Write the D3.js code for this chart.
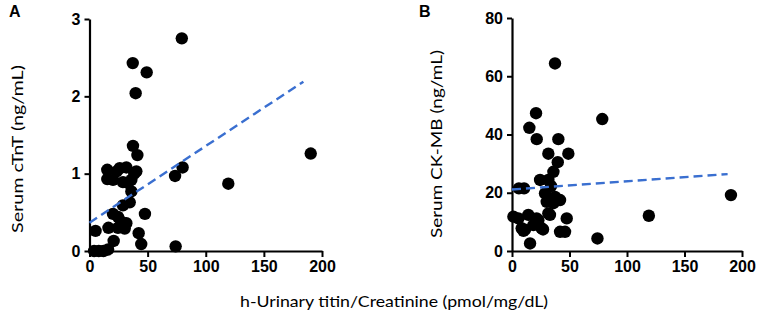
<!DOCTYPE html>
<html><head><meta charset="utf-8">
<script src="https://cdn.jsdelivr.net/npm/d3@7"></script>
<style>body{margin:0;background:#fff}svg{display:block}</style>
</head><body>
<svg id="c" width="759" height="315"></svg>
<script>
// Panel A: h-Urinary titin/Creatinine vs Serum cTnT
const titinA = [79.4,37.2,49.2,39.7,37.4,41.2,190.3,80.1,73.6,119.4,74.1,47.7,42.3,44.5,5.2,16.3,20.8,4,8,12,16,
  15.3,26,31.7,40.3,15.3,20.2,28.8,36,36,34.6,28.8,20.2,24.5,27.4,31.7,24.5,30.3,23.4,33,38.5];
const cTnT   = [2.75,2.43,2.31,2.04,1.36,1.24,1.26,1.08,0.97,0.87,0.06,0.48,0.23,0.09,0.26,0.30,0.13,0,0,0,0.02,
  1.05,1.07,1.08,1.03,0.93,0.92,0.89,0.92,0.77,0.63,0.59,0.48,0.44,0.38,0.36,0.30,0.29,1.03,0.88,1.0];
const trendA_x = [0,184];
const trendA_y = [0.366,2.19];
// Panel B: h-Urinary titin/Creatinine vs Serum CK-MB
const titinB = [37.4,20.9,78.5,15.1,21.5,40.3,31.6,49,39.8,36,24.4,31.6,6,10.5,34,28.7,37.4,41.8,30.2,31.6,47.6,5.5,14.2,22.9,8.4,18.6,25.8,15.7,41.8,46.1,11.3,190.4,119,74.3,1.2,10,21.4,27,33,36];
const ckmb   = [64.4,47.3,45.3,42.3,38.4,38.4,33.4,33.4,30.5,27.2,24.4,24.4,21.5,21.5,22.3,19.8,18.6,17.5,16.9,12.9,11.2,11.2,12.4,10.6,7.8,8.9,7.8,2.6,6.6,6.6,7.3,19.2,12.1,4.3,11.8,6.9,11.2,7.4,12.4,16.4];
const trendB_x = [0,187.5];
const trendB_y = [21.1,26.4];
const xTicks = [0,50,100,150,200];
const yTicksA = [0,1,2,3];
const yTicksB = [0,20,40,60,80];
const yTitleA = "Serum cTnT (ng/mL)";
const yTitleB = "Serum CK-MB (ng/mL)";
const xTitle = "h-Urinary titin/Creatinine (pmol/mg/dL)";

const svg = d3.select("#c");
const titleFont = "Lato, 'Open Sans', sans-serif";

function panel(opts){
  const x = d3.scaleLinear().domain([0,200]).range(opts.xr);
  const y = d3.scaleLinear().domain(opts.yd).range([251, opts.ytop]);
  const g = svg.append("g");
  const xa = g.append("g").attr("transform","translate(0,251)")
    .call(d3.axisBottom(x).tickValues(xTicks).tickFormat(d3.format("d")).tickSize(6).tickPadding(4).tickSizeOuter(0));
  const ya = g.append("g").attr("transform",`translate(${opts.xr[0]},0)`)
    .call(d3.axisLeft(y).tickValues(opts.yt).tickFormat(d3.format("d")).tickSize(5).tickPadding(4).tickSizeOuter(0));
  [xa,ya].forEach(a=>{
    a.select(".domain").attr("stroke","#000").attr("stroke-width",2.2);
    a.selectAll(".tick line").attr("stroke","#000").attr("stroke-width",2);
    a.selectAll(".tick text").attr("fill","#000")
      .style("font-family","'Liberation Sans', Arial, sans-serif")
      .style("font-weight","bold").style("font-size","16px");
  });
  g.selectAll("circle").data(opts.xs).join("circle")
    .attr("cx",d=>x(d)).attr("cy",(d,i)=>y(opts.ys[i])).attr("r",6.2).attr("fill","#000");
  g.append("line")
    .attr("x1",x(opts.tx[0])).attr("y1",y(opts.ty[0]))
    .attr("x2",x(opts.tx[1])).attr("y2",y(opts.ty[1]))
    .attr("stroke","#3a6fd0").attr("stroke-width",2.4).attr("stroke-dasharray","9,5");
  g.append("text").text(opts.title)
    .attr("transform",`translate(${opts.tcx},${opts.tcy}) rotate(-90)`)
    .attr("text-anchor","middle").attr("dominant-baseline","central")
    .style("font-family",titleFont).style("font-size","16px").attr("fill","#000")
    .attr("textLength",opts.tlen).attr("lengthAdjust","spacingAndGlyphs");
  g.append("text").text(opts.label).attr("x",opts.lx).attr("y",17)
    .style("font-family","'Liberation Sans', Arial, sans-serif").style("font-weight","bold")
    .style("font-size","16px").attr("fill","#000");
}

panel({xr:[89.5,322], yd:[0,3], ytop:19, yt:yTicksA, xs:titinA, ys:cTnT, tx:trendA_x, ty:trendA_y,
  title:yTitleA, tcx:16, tcy:149, tlen:168, label:"A", lx:9});
panel({xr:[512,742], yd:[0,80], ytop:18, yt:yTicksB, xs:titinB, ys:ckmb, tx:trendB_x, ty:trendB_y,
  title:yTitleB, tcx:435, tcy:144, tlen:188, label:"B", lx:419});

svg.append("text").text(xTitle).attr("x",394).attr("y",307).attr("text-anchor","middle")
  .style("font-family",titleFont).style("font-size","16px").attr("fill","#000")
  .attr("textLength",308).attr("lengthAdjust","spacingAndGlyphs");
</script>
</body></html>
